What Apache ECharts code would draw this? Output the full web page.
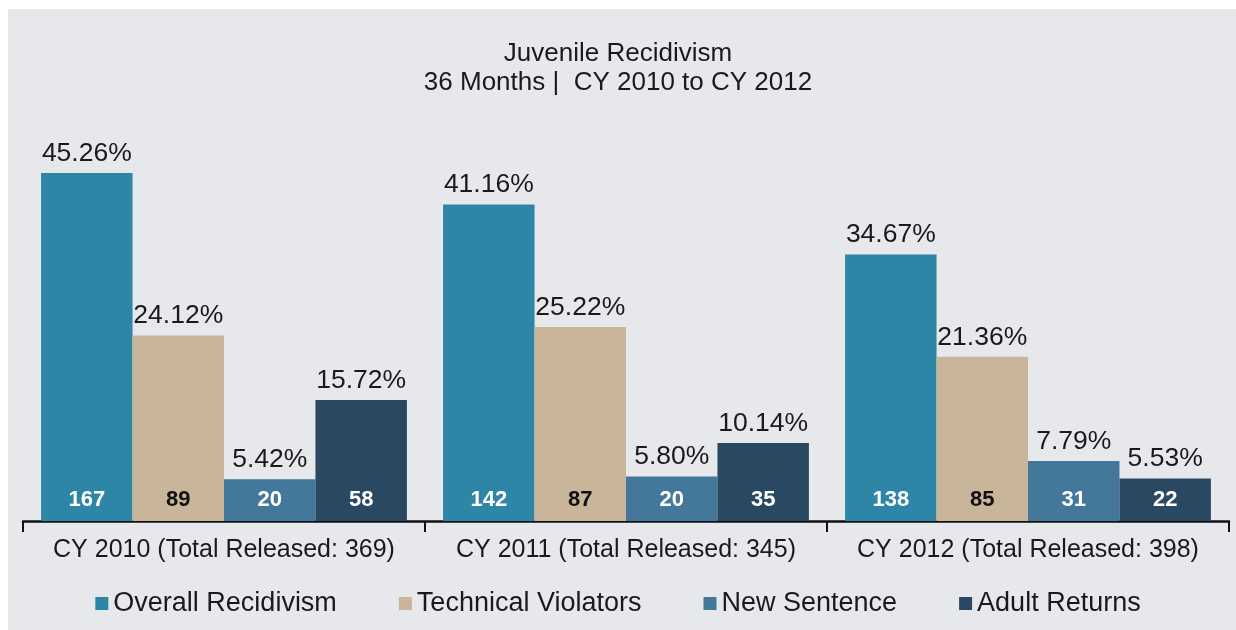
<!DOCTYPE html>
<html>
<head>
<meta charset="utf-8">
<script src="https://cdn.jsdelivr.net/npm/echarts@6/dist/echarts.min.js"></script>
<style>html,body{margin:0;padding:0;background:#fff;}#c{width:1236px;height:630px;}</style>
</head>
<body>
<div id="c"></div>
<script>
var categories = ['CY 2010 (Total Released: 369)', 'CY 2011 (Total Released: 345)', 'CY 2012 (Total Released: 398)'];
var seriesNames = ['Overall Recidivism', 'Technical Violators', 'New Sentence', 'Adult Returns'];
var overallPct = [45.26, 41.16, 34.67];
var technicalPct = [24.12, 25.22, 21.36];
var newSentencePct = [5.42, 5.80, 7.79];
var adultPct = [15.72, 10.14, 5.53];
var overallCount = [167, 142, 138];
var technicalCount = [89, 87, 85];
var newSentenceCount = [20, 20, 31];
var adultCount = [58, 35, 22];

var pcts = [overallPct, technicalPct, newSentencePct, adultPct];
var counts = [overallCount, technicalCount, newSentenceCount, adultCount];
var colors = ['#2d86a6', '#c8b59a', '#44789a', '#2b4862'];
var countColors = ['#ffffff', '#111111', '#ffffff', '#ffffff'];
var font = 'Liberation Sans, Arial, sans-serif';

var series = [];
seriesNames.forEach(function (name, i) {
  series.push({
    name: name, type: 'bar', stack: 's' + i,
    data: pcts[i],
    itemStyle: { color: colors[i] },
    label: {
      show: true, position: 'insideBottom', distance: 10,
      color: countColors[i], fontSize: 22, fontWeight: 'bold', fontFamily: font,
      formatter: function (p) { return counts[i][p.dataIndex]; }
    }
  });
  series.push({
    name: name, type: 'bar', stack: 's' + i,
    data: pcts[i].map(function () { return 0; }),
    itemStyle: { color: colors[i] },
    label: {
      show: true, position: 'top', distance: 6,
      color: '#1a1a1a', fontSize: 26.5, fontFamily: font,
      formatter: function (p) { return pcts[i][p.dataIndex].toFixed(2) + '%'; }
    }
  });
});

var chart = echarts.init(document.getElementById('c'));
chart.setOption({
  backgroundColor: '#ffffff',
  animation: false,
  graphic: [{ type: 'rect', z: -10, silent: true, shape: { x: 8, y: 9, width: 1228, height: 621 }, style: { fill: '#e7e8ec' } }],
  title: {
    text: 'Juvenile Recidivism\n36 Months |  CY 2010 to CY 2012',
    left: 'center', top: 34,
    textStyle: { fontSize: 26, fontWeight: 'normal', color: '#1a1a1a', fontFamily: font, lineHeight: 29 }
  },
  legend: {
    data: seriesNames, top: 585, left: 'center',
    icon: 'rect', itemWidth: 13, itemHeight: 13, itemGap: 62,
    textStyle: { fontSize: 27, color: '#1a1a1a', fontFamily: font }
  },
  grid: { left: 23, right: 7, top: 136.5, bottom: 109, containLabel: false },
  xAxis: {
    type: 'category', data: categories,
    axisLine: { lineStyle: { color: '#111', width: 2.5 } },
    axisTick: { show: true, length: 11, lineStyle: { color: '#111', width: 2 } },
    axisLabel: { margin: 17, fontSize: 25, color: '#1a1a1a', fontFamily: font, interval: 0 }
  },
  yAxis: { type: 'value', min: 0, max: 50, show: false, splitLine: { show: false } },
  series: series.map(function (s) { s.barGap = '0%'; s.barCategoryGap = '9%'; return s; })
});
</script>
</body>
</html>
